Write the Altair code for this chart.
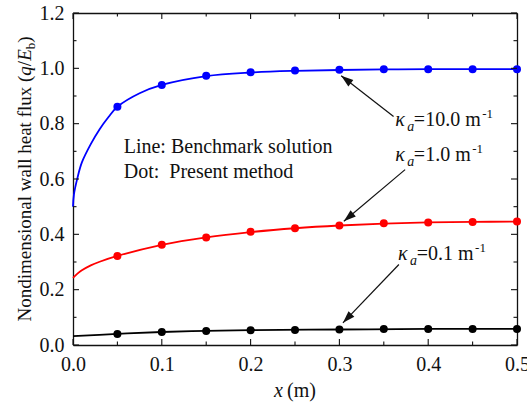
import math
import altair as alt
import pandas as pd

# ---------------- data ----------------
x_dots = [0.05, 0.10, 0.15, 0.20, 0.25, 0.30, 0.35, 0.40, 0.45, 0.50]
dots_k10 = [0.861, 0.940, 0.973, 0.986, 0.992, 0.995, 0.997, 0.997, 0.997, 0.997]
dots_k1 = [0.322, 0.362, 0.389, 0.409, 0.422, 0.432, 0.440, 0.443, 0.445, 0.446]
dots_k01 = [0.040, 0.047, 0.051, 0.053, 0.054, 0.056, 0.058, 0.058, 0.058, 0.058]

line_k10_x = [0, 0.001, 0.005, 0.01, 0.02, 0.03, 0.04, 0.05, 0.075, 0.10, 0.15, 0.20, 0.25, 0.30, 0.35, 0.40, 0.50]
line_k10_y = [0.500, 0.543, 0.604, 0.660, 0.726, 0.780, 0.824, 0.861, 0.910, 0.940, 0.972, 0.985, 0.991, 0.994, 0.996, 0.997, 0.997]
line_k1_x = [0, 0.005, 0.01, 0.02, 0.03, 0.05, 0.10, 0.15, 0.20, 0.25, 0.30, 0.35, 0.40, 0.45, 0.50]
line_k1_y = [0.243, 0.258, 0.270, 0.288, 0.301, 0.322, 0.362, 0.389, 0.408, 0.422, 0.432, 0.439, 0.443, 0.445, 0.446]
line_k01_x = [0, 0.05, 0.10, 0.15, 0.20, 0.30, 0.40, 0.50]
line_k01_y = [0.032, 0.040, 0.047, 0.051, 0.054, 0.056, 0.058, 0.058]

series = ["10.0", "1.0", "0.1"]
series_colors = ["#0000ff", "#ff0000", "#000000"]

x_major = [0.0, 0.1, 0.2, 0.3, 0.4, 0.5]
x_minor = [0.05, 0.15, 0.25, 0.35, 0.45]
y_major = [0.0, 0.2, 0.4, 0.6, 0.8, 1.0, 1.2]
y_minor = [0.1, 0.3, 0.5, 0.7, 0.9, 1.1]

# annotation arrows (tail -> tip) and labels
arrow_tail_x = [0.361, 0.374, 0.367]
arrow_tail_y = [0.826, 0.634, 0.291]
arrow_tip_x = [0.302, 0.305, 0.304]
arrow_tip_y = [0.973, 0.447, 0.080]
label_x = [0.3628, 0.3628, 0.366]
label_y = [0.7924, 0.6635, 0.3087]
label_rest = ["=10.0 m", "=1.0 m", "=0.1 m"]
note_lines = ["Line: Benchmark solution", "Dot:\u00a0 Present method"]
note_y = [0.694, 0.6036]
note_x = 0.0571

# ---------------- layout / style ----------------
W, H = 444, 332
PAD = {"left": 73, "top": 13, "right": 10, "bottom": 60}
FONT = "Liberation Serif"
FS = 20
XD = [0, 0.5]
YD = [0, 1.2]
INK = "#111111"
MAJ, MIN = 6, 3.5

REG = {' ': 0.25, '\u00a0': 0.25, '(': 0.333, ')': 0.333, '/': 0.278, 'N': 0.722, 'o': 0.5, 'n': 0.5,
       'd': 0.5, 'i': 0.278, 'm': 0.778, 'e': 0.444, 's': 0.389, 'a': 0.444, 'l': 0.278,
       'w': 0.722, 'h': 0.5, 't': 0.278, 'f': 0.333, 'u': 0.5, 'x': 0.5, '=': 0.564,
       '0': 0.5, '1': 0.5, '.': 0.25, '-': 0.333}


def tw(s, fs):
    return sum(REG.get(c, 0.5) for c in s) * fs


xsc = alt.Scale(domain=XD, nice=False, zero=False)
ysc = alt.Scale(domain=YD, nice=False, zero=False)
colsc = alt.Scale(domain=series, range=series_colors)


def ax(orient, values, labels=False):
    return alt.Axis(
        orient=orient, values=values, title=None, grid=False, labels=labels,
        domain=True, domainColor=INK, domainWidth=1.3, ticks=False,
        labelFont=FONT, labelFontSize=FS, labelColor=INK, labelPadding=9,
        labelFlush=False, labelOverlap=False, format=".1f",
    )


# ---------------- tables ----------------
lines_df = pd.concat([
    pd.DataFrame({"x": line_k10_x, "y": line_k10_y, "s": "10.0"}),
    pd.DataFrame({"x": line_k1_x, "y": line_k1_y, "s": "1.0"}),
    pd.DataFrame({"x": line_k01_x, "y": line_k01_y, "s": "0.1"}),
])
dots_df = pd.concat([
    pd.DataFrame({"x": x_dots, "y": dots_k10, "s": "10.0"}),
    pd.DataFrame({"x": x_dots, "y": dots_k1, "s": "1.0"}),
    pd.DataFrame({"x": x_dots, "y": dots_k01, "s": "0.1"}),
])
angles = []
for tx, ty, hx, hy in zip(arrow_tail_x, arrow_tail_y, arrow_tip_x, arrow_tip_y):
    pdx = (hx - tx) * W / (XD[1] - XD[0])
    pdy = -(hy - ty) * H / (YD[1] - YD[0])
    angles.append(math.degrees(math.atan2(pdx, -pdy)) % 360)
arrows_df = pd.DataFrame({"tx": arrow_tail_x, "ty": arrow_tail_y,
                          "hx": arrow_tip_x, "hy": arrow_tip_y, "ang": angles})
lab_df = pd.DataFrame({"x": label_x, "y": label_y, "rest": label_rest,
                       "k": ["\u03ba"] * 3, "a": ["a"] * 3, "sup": ["-1"] * 3})

# ---------------- layers ----------------
lines = alt.Chart(lines_df).mark_line(strokeWidth=1.8, interpolate="catmull-rom").encode(
    x=alt.X("x:Q", scale=xsc, axis=ax("bottom", x_major, labels=True)),
    y=alt.Y("y:Q", scale=ysc, axis=ax("left", y_major, labels=True)),
    color=alt.Color("s:N", scale=colsc, legend=None),
)
dots = alt.Chart(dots_df).mark_circle(size=64, opacity=1).encode(
    x=alt.X("x:Q", scale=xsc, axis=ax("top", x_major)),
    y=alt.Y("y:Q", scale=ysc, axis=ax("right", y_major)),
    color=alt.Color("s:N", scale=colsc, legend=None),
)
rules = alt.Chart(arrows_df).mark_rule(strokeWidth=1.2, color=INK).encode(
    x=alt.X("tx:Q", scale=xsc, axis=None),
    y=alt.Y("ty:Q", scale=ysc, axis=None),
    x2="hx:Q", y2="hy:Q",
)
heads = alt.Chart(arrows_df).mark_point(
    shape="M0,0 L-0.33,1 L0.33,1 Z", filled=True, size=600, opacity=1,
    color=INK, strokeWidth=0,
).encode(
    x=alt.X("hx:Q", scale=xsc, axis=None),
    y=alt.Y("hy:Q", scale=ysc, axis=None),
    angle=alt.Angle("ang:Q", scale=None),
)


# inward tick marks on all four sides
def xticks(vals, length, top):
    y0, y1 = (0, length) if top else (H, H - length)
    return alt.Chart(pd.DataFrame({"v": vals})).mark_rule(color=INK, strokeWidth=1.1).encode(
        x=alt.X("v:Q", scale=xsc, axis=None), y=alt.value(y0), y2=alt.value(y1))


def yticks(vals, length, right):
    x0, x1 = (W, W - length) if right else (0, length)
    return alt.Chart(pd.DataFrame({"v": vals})).mark_rule(color=INK, strokeWidth=1.1).encode(
        y=alt.Y("v:Q", scale=ysc, axis=None), x=alt.value(x0), x2=alt.value(x1))


tick_layers = [
    xticks(x_major, MAJ, False), xticks(x_major, MAJ, True),
    xticks(x_minor, MIN, False), xticks(x_minor, MIN, True),
    yticks(y_major, MAJ, False), yticks(y_major, MAJ, True),
    yticks(y_minor, MIN, False), yticks(y_minor, MIN, True),
]


def dtext(df, field, fs, style="normal", dx=0, dy=0):
    return alt.Chart(df).mark_text(
        font=FONT, fontSize=fs, fontStyle=style, align="left", baseline="alphabetic",
        dx=dx, dy=dy, color=INK,
    ).encode(
        x=alt.X("x:Q", scale=xsc, axis=None),
        y=alt.Y("y:Q", scale=ysc, axis=None),
        text=f"{field}:N",
    )


k_w = 12.0
sub_fs = 14
eq_dx = k_w + 0.5 * sub_fs - 0.3
txt_layers = [
    dtext(lab_df, "k", FS, "italic"),
    dtext(lab_df, "a", sub_fs, "italic", dx=k_w, dy=5),
    dtext(lab_df, "rest", FS, dx=eq_dx),
    dtext(lab_df.iloc[[0]], "sup", 13, dx=eq_dx + tw(label_rest[0], FS) + 1.5, dy=-8),
    dtext(lab_df.iloc[[1, 2]], "sup", 13, dx=eq_dx + tw(label_rest[1], FS) + 1.5, dy=-8),
    dtext(pd.DataFrame({"x": [note_x, note_x], "y": note_y, "t": note_lines}), "t", FS),
]


def ptext(t, px, py, fs, style="normal", angle=0, dx=0, dy=0):
    return alt.Chart(pd.DataFrame({"t": [t]})).mark_text(
        font=FONT, fontSize=fs, fontStyle=style, align="left", baseline="alphabetic",
        angle=angle, dx=dx, dy=dy, color=INK,
    ).encode(x=alt.value(px), y=alt.value(py), text="t:N")


# x title: "x (m)" centred under the plot
xt_fs = 20
xt_parts = [("x", "italic", 0.444 * xt_fs + 4), ("(m)", "normal", tw("(m)", xt_fs))]
xt_total = sum(p[2] for p in xt_parts)
xt_start = W / 2 - xt_total / 2
acc = 0
for t, st, w in xt_parts:
    txt_layers.append(ptext(t, xt_start, 384, xt_fs, st, dx=acc))
    acc += w

# y title: "Nondimensional wall heat flux (q/E_b)" rotated
yt_fs = 19
yt_parts = [
    ("Nondimensional wall heat flux (", "normal", yt_fs, 0, tw("Nondimensional wall heat flux (", yt_fs)),
    ("q", "italic", yt_fs, 0, 0.5 * yt_fs),
    ("/", "normal", yt_fs, 0, 0.278 * yt_fs),
    ("E", "italic", yt_fs, 0, 0.611 * yt_fs),
    ("b", "normal", 13, 4, 0.5 * 13),
    (")", "normal", yt_fs, 0, 0.333 * yt_fs),
]
yt_total = sum(p[4] for p in yt_parts)
yt_start = H / 2 + yt_total / 2
acc = 0
for t, st, fs, dyy, w in yt_parts:
    txt_layers.append(ptext(t, -42, yt_start, fs, st, angle=270, dx=acc, dy=dyy))
    acc += w

chart = alt.layer(lines, dots, rules, heads, *tick_layers, *txt_layers).resolve_axis(
    x="independent", y="independent"
).properties(
    width=W, height=H, padding=PAD,
    autosize=alt.AutoSizeParams(type="none"),
    background="white",
).configure_view(stroke=None)

chart.save("out.html", embed_options={"renderer": "svg", "actions": False})
